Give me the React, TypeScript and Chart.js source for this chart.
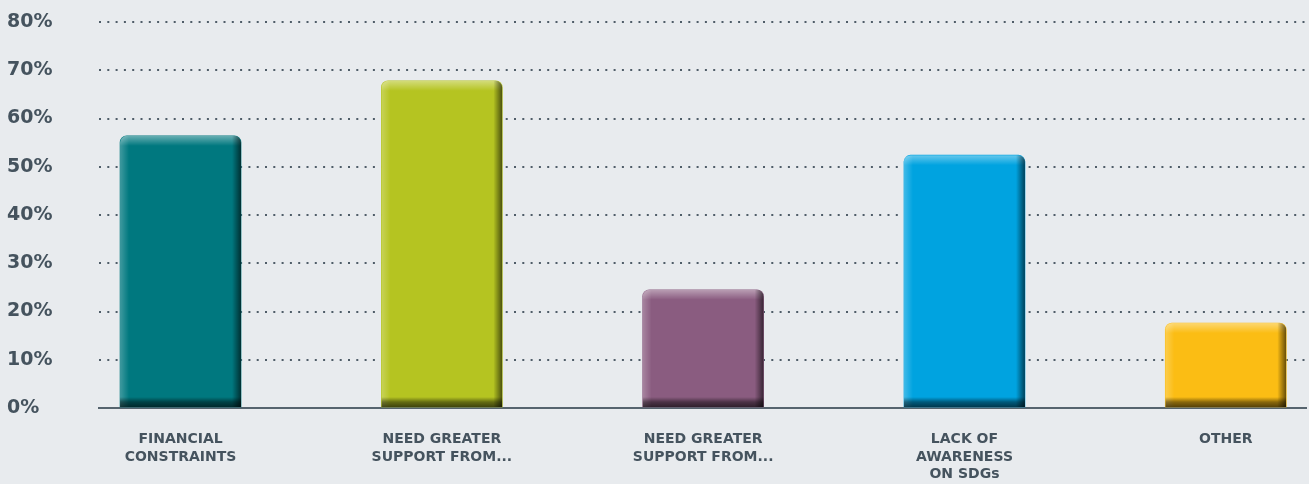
import React, { useEffect, useRef } from "react";
import { Chart, registerables } from "chart.js";

Chart.register(...registerables);

const categories: string[][] = [
  ["FINANCIAL", "CONSTRAINTS"],
  ["NEED GREATER", "SUPPORT FROM..."],
  ["NEED GREATER", "SUPPORT FROM..."],
  ["LACK OF", "AWARENESS", "ON SDGs"],
  ["OTHER"],
];
const values: number[] = [56.4, 67.8, 24.5, 52.4, 17.6];
const barColors: string[] = ["#00787f", "#b5c421", "#8a5c80", "#00a3e0", "#fbbd14"];
const yTicks: number[] = [0, 10, 20, 30, 40, 50, 60, 70, 80];

const TEXT = "#45535e";
const FONT = "'DejaVu Sans', sans-serif";

const bevelPlugin = {
  id: "bevel",
  afterDatasetsDraw(chart: any) {
    const ctx = chart.ctx as CanvasRenderingContext2D;
    const meta = chart.getDatasetMeta(0);
    meta.data.forEach((bar: any) => {
      const p = bar.getProps(["x", "y", "base", "width"], true);
      const l = p.x - p.width / 2;
      const r = p.x + p.width / 2;
      const t = Math.min(p.y, p.base);
      const b = Math.max(p.y, p.base);
      const w = r - l;
      const h = b - t;
      ctx.save();
      ctx.beginPath();
      (ctx as any).roundRect(l, t, w, h, [7, 7, 0, 0]);
      ctx.clip();
      let g = ctx.createLinearGradient(0, t, 0, t + 10);
      g.addColorStop(0, "rgba(255,255,255,0.4)");
      g.addColorStop(1, "rgba(255,255,255,0)");
      ctx.fillStyle = g;
      ctx.fillRect(l, t, w, 10);
      g = ctx.createLinearGradient(l, 0, l + 9, 0);
      g.addColorStop(0, "rgba(255,255,255,0.25)");
      g.addColorStop(1, "rgba(255,255,255,0)");
      ctx.fillStyle = g;
      ctx.fillRect(l, t, 9, h);
      g = ctx.createLinearGradient(r - 9, 0, r, 0);
      g.addColorStop(0, "rgba(0,0,0,0)");
      g.addColorStop(1, "rgba(0,0,0,0.6)");
      ctx.fillStyle = g;
      ctx.fillRect(r - 9, t, 9, h);
      g = ctx.createLinearGradient(0, b - 10, 0, b);
      g.addColorStop(0, "rgba(0,0,0,0)");
      g.addColorStop(0.5, "rgba(0,0,0,0.45)");
      g.addColorStop(1, "rgba(0,0,0,0.65)");
      ctx.fillStyle = g;
      ctx.fillRect(l, b - 10, w, 10);
      ctx.restore();
    });
  },
};

export default function App() {
  const ref = useRef<HTMLCanvasElement | null>(null);
  useEffect(() => {
    if (!ref.current) return;
    const chart = new Chart(ref.current, {
      type: "bar",
      data: {
        datasets: [
          {
            data: values.map((v, i) => ({ x: i, y: v })),
            backgroundColor: barColors,
            borderWidth: 0,
            borderRadius: { topLeft: 7, topRight: 7, bottomLeft: 0, bottomRight: 0 },
            borderSkipped: "bottom",
            barThickness: 121,
          },
        ],
      },
      options: {
        animation: false,
        responsive: true,
        maintainAspectRatio: false,
        layout: { padding: { top: 22, left: 7, right: 3, bottom: 0 } },
        plugins: { legend: { display: false }, tooltip: { enabled: false } },
        scales: {
          x: {
            type: "linear",
            offset: false,
            min: -0.312,
            max: 4.307,
            afterBuildTicks: (scale: any) => {
              scale.ticks = categories.map((_, i) => ({ value: i }));
            },
            afterFit: (scale: any) => {
              scale.height = 76;
            },
            grid: { display: false, drawTicks: false },
            border: { display: true, color: "#56646e", width: 2 },
            ticks: {
              autoSkip: false,
              maxRotation: 0,
              padding: 23,
              color: TEXT,
              font: { family: FONT, weight: "bold", size: 14, lineHeight: 1.25 },
              callback: (v: any) => categories[v as number] ?? "",
            },
          },
          y: {
            min: 0,
            max: 80,
            afterBuildTicks: (scale: any) => {
              scale.ticks = yTicks.map((v) => ({ value: v }));
            },
            afterFit: (scale: any) => {
              scale.width = 92;
            },
            grid: {
              color: (c: any) => (c.tick && c.tick.value === 0 ? "rgba(0,0,0,0)" : "#4f5d68"),
              lineWidth: 2,
              tickLength: 0,
              drawTicks: false,
            },
            border: { display: false, dash: [2, 6.3] },
            ticks: {
              crossAlign: "far",
              color: TEXT,
              font: { family: FONT, weight: "bold", size: 19 },
              callback: (v: any) => v + "%",
            },
          },
        },
      } as any,
      plugins: [bevelPlugin],
    });
    return () => chart.destroy();
  }, []);
  return (
    <div
      style={{
        position: "fixed",
        left: 0,
        top: 0,
        width: 1309,
        height: 484,
        background: "#e8ebee",
      }}
    >
      <canvas ref={ref} />
    </div>
  );
}
